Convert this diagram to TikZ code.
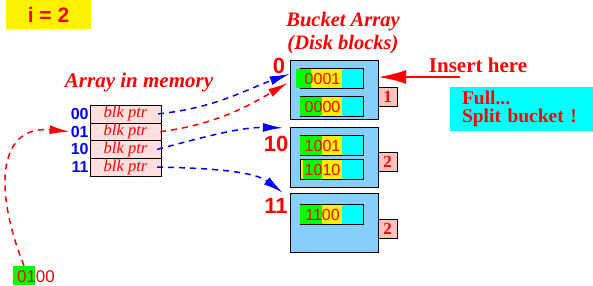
\documentclass[tikz,border=0pt]{standalone}
\usepackage{fontspec}
\setmainfont{Liberation Serif}
\setsansfont{Liberation Sans}
\usepackage{tikz}
\usetikzlibrary{arrows.meta,calc}
\definecolor{bucketblue}{RGB}{135,206,250}
\definecolor{rowpink}{RGB}{255,222,222}
\definecolor{tagpink}{RGB}{255,192,192}
\definecolor{fullcyan}{RGB}{0,255,255}
\newcommand{\fsz}[2][0]{\fontsize{#2}{\ifdim#1pt=0pt #2\else #1\fi}\selectfont}
\newcommand{\diskrec}[5]{%
\fill[yellow] (300,#2) rectangle (342,#2+20);
\fill[fullcyan] (342,#2) rectangle (363,#2+20);
\draw (300,#2) rectangle (363,#2+20);
\fill[green] (#3,#2+0.5) rectangle (#4,#2+19.5);
\node[rectext] (#1) at (322.5,#2+10.5) {#5};}

\begin{document}
\begin{tikzpicture}[x=1pt,y=-1pt,
  rowbox/.style={draw,fill=rowpink,minimum width=71pt,minimum height=17.75pt,inner sep=0pt,text=red,font=\itshape\fsz{16.5}},
  rowlab/.style={anchor=east,inner sep=1pt,text=blue,font=\sffamily\bfseries\fsz{16}},
  bucket/.style={draw,fill=bucketblue,minimum width=88pt,minimum height=59pt,inner sep=0pt},
  tag/.style={draw,fill=tagpink,minimum size=19pt,inner sep=0pt,text=red,font=\bfseries\fsz{17}},
  rectext/.style={inner sep=0pt,text=red,font=\sffamily\fsz{16}},
  buclab/.style={inner sep=0pt,text=red,font=\sffamily\bfseries\fsz{22}},
  title/.style={inner sep=0pt,text=red,font=\bfseries\itshape\fsz{21}},
  ptr/.style={line width=1.5pt,dash pattern=on 6pt off 5pt,-{Latex[length=20pt,width=9pt]}}]
\useasboundingbox (0,0) rectangle (593,285);
\node[fill=yellow,minimum width=85pt,minimum height=29pt,inner sep=0pt,text=red,font=\sffamily\bfseries\fsz{21}] (ibox) at (48.5,14.5) {i = 2};
\node[title] (memtitle) at (139,82) {Array in memory};
\foreach \lab [count=\i] in {00,01,10,11} {
  \node[rowbox] (row\lab) at (125.5,{105+17.75*(\i-0.5)}) {blk ptr};
  \node[rowlab] (lab\lab) at (row\lab.west) {\lab};
}
\node[title,align=center,font={\bfseries\itshape\fsz[23]{20.5}}] (buctitle) at (343,33) {Bucket Array\\(Disk blocks)};
\node[bucket] (bkt0) at (334,89.5) {};
\node[bucket,minimum height=60pt] (bkt10) at (334,157) {};
\node[bucket] (bkt11) at (334,222.5) {};
\diskrec{r0001}{68.5}{296}{311}{0001}
\diskrec{r0000}{96.5}{300}{322}{0000}
\diskrec{r1001}{135}{300}{322}{1001}
\diskrec{r1010}{159.5}{303}{322}{1010}
\diskrec{r1100}{204.5}{300}{322}{1100}
\node[tag] (tag0) at (387.5,96.5) {1};
\node[tag] (tag10) at (387.5,162) {2};
\node[tag] (tag11) at (387.5,228.5) {2};
\node[buclab] (l0) at (279,66) {0};
\node[buclab] (l10) at (276,143.5) {10};
\node[buclab] (l11) at (276,206) {11};
\node[inner sep=0pt,text=red,font=\bfseries\fsz{21}] (insert) at (478,65) {Insert here};
\coordinate (instail) at (460,77);
\draw[red,line width=2.5pt,-{Latex[length=28pt,width=14pt]}] (instail) -- (bkt0.east |- instail);
\node[fill=fullcyan,minimum width=143pt,minimum height=44pt,inner xsep=12pt,text width=119pt,align=left,text=red,font={\bfseries\fsz[18.5]{19.5}}] (full) at (521.5,109) {Full...\\Split bucket !};
\node[fill=green,minimum width=22pt,minimum height=19pt,inner sep=0pt] (addrbits) at (24,275.5) {};
\node[inner sep=0pt,text=red,font=\sffamily\fsz{17}] (addr) at (36,276.5) {0100};
\draw[ptr,blue] ([xshift=-3pt]row00.east) .. controls (215,108) and (245,90) .. ([yshift=-14pt]bkt0.north west);
\draw[ptr,red] ([xshift=-1pt]row01.east) .. controls (215,125) and (250,105) .. ([xshift=-2pt,yshift=-23pt]bkt0.north west);
\draw[ptr,blue] ([xshift=-4pt]row10.east) .. controls (200,138) and (240,127) .. ([xshift=-7pt,yshift=-1pt]bkt10.north west);
\draw[ptr,blue] ([xshift=-4pt]row11.east) .. controls (215,168) and (255,172) .. ([xshift=-7pt]bkt11.north west);
\draw[ptr,red] (addrbits.north) .. controls (-8,185) and (0,125) .. (lab01.west);
\end{tikzpicture}
\end{document}
